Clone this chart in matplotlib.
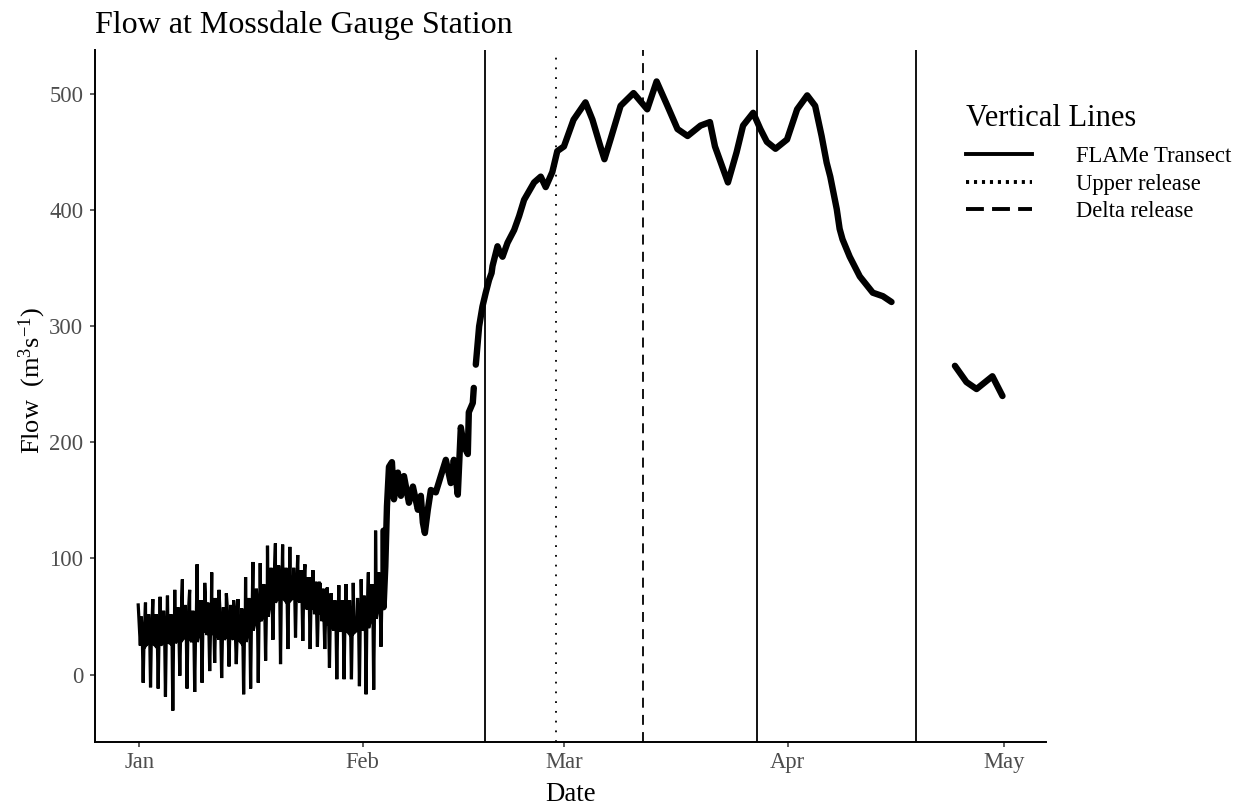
import numpy as np
import pandas as pd
import matplotlib
matplotlib.use("Agg")
import matplotlib.pyplot as plt
from matplotlib.lines import Line2D

plt.rcParams['font.family'] = ['Liberation Serif', 'DejaVu Serif']
plt.rcParams['mathtext.fontset'] = 'custom'
plt.rcParams['mathtext.rm'] = 'Liberation Serif'
plt.rcParams['mathtext.it'] = 'Liberation Serif:italic'

# ---------------- data (days since 2019-01-01, flow m3/s) ----------------
YEAR_START = "2019-01-01"

# tidal oscillation period: daily peaks, troughs and the band levels around troughs
peak_days = [-0.14, 0.87, 1.89, 2.90, 3.92, 4.93, 5.99, 7.00, 8.03, 9.09, 10.06, 11.07,
             12.09, 13.10, 13.70, 14.76, 15.78, 16.79, 17.80, 18.90, 19.90, 20.90, 22.00,
             23.00, 24.10, 25.10, 26.10, 27.70, 28.70, 29.70, 30.80, 31.80, 32.80, 33.90]
peak_flow = [60, 62, 65, 67, 68, 73, 82, 73, 95, 79, 88, 73, 70, 64, 65, 84, 97, 96,
             111, 113, 112, 110, 103, 95, 90, 79, 75, 77, 78, 79, 82, 88, 124, 124]
trough_days = [0.55, 1.57, 2.63, 3.64, 4.66, 5.63, 6.64, 7.70, 8.72, 9.78, 10.47, 11.44,
               12.46, 13.47, 14.49, 15.46, 16.52, 17.54, 18.55, 19.61, 20.63, 21.69, 22.70,
               23.72, 24.73, 25.75, 26.40, 27.42, 28.43, 29.45, 30.56, 31.48, 32.54, 33.55]
trough_flow = [-7, -11, -12, -19, -31, -1, -12, -15, -7, 3, 10, -3, 7, 9, -17, -12, -7,
               12, 30, 9, 22, 32, 29, 22, 24, 22, 6, -4, -4, -4, -10, -17, -13, 24]
band_hi = [50, 52, 52, 55, 52, 58, 60, 55, 64, 62, 66, 58, 60, 57, 57, 66, 74, 78,
           92, 94, 92, 92, 90, 84, 80, 74, 70, 64, 64, 64, 66, 68, 78, 88]
band_lo = [25, 27, 25, 28, 27, 30, 32, 28, 36, 34, 38, 30, 33, 30, 28, 38, 46, 50,
           62, 66, 64, 66, 62, 56, 52, 46, 42, 38, 38, 36, 38, 40, 48, 58]

# rising limb in early February
rise_days = [34.15, 34.38, 34.66, 35.07, 35.35, 35.90, 36.32, 36.74, 37.43, 37.98, 38.67,
             39.08, 39.36, 39.64, 40.05, 40.47, 41.16, 41.85, 42.55, 43.24, 43.66, 44.21,
             44.63, 45.05, 45.60, 45.74, 46.29, 46.43]
rise_flow = [93, 145, 179, 183, 151, 174, 154, 171, 148, 162, 142, 154, 131, 122, 142, 159,
             157, 171, 185, 165, 185, 155, 213, 197, 190, 226, 234, 247]

# high-flow period (after a short data gap)
high_days = [46.71, 47.17, 47.63, 48.09, 48.55, 48.90, 49.03, 49.72, 50.10, 50.42, 51.11,
             52.03, 52.72, 53.41, 54.80, 55.72, 56.41, 57.33, 58.02, 58.94, 60.27, 61.93,
             62.90, 64.00, 64.56, 65.40, 66.80, 68.60, 70.50, 71.80, 73.30, 74.70, 76.10,
             77.90, 79.20, 79.90, 81.70, 82.90, 83.80, 85.20, 86.20, 87.10, 88.30, 89.90,
             91.30, 92.70, 93.80, 94.70, 95.40, 95.90, 96.80, 97.20, 97.60, 98.60, 100.00,
             101.80, 103.20, 104.40]
high_flow = [267, 300, 317, 329, 340, 346, 352, 369, 363, 360, 372, 383, 395, 409, 424, 429,
             420, 433, 451, 455, 478, 493, 478, 455, 444, 461, 490, 501, 487, 511, 490, 470,
             464, 473, 476, 455, 424, 450, 473, 484, 470, 459, 453, 461, 487, 499, 490, 464,
             441, 429, 401, 384, 375, 360, 343, 329, 326, 321]

# last few days of April (after a longer gap)
late_days = [113.2, 114.8, 116.2, 118.4, 119.8]
late_flow = [266, 252, 246, 257, 240]

gap_days = [46.55, 108.0]   # missing records

# vertical reference lines
event_days = [48.0, 57.9, 69.9, 85.8, 107.8]
event_kind = ["FLAMe Transect", "Upper release", "Delta release", "FLAMe Transect", "FLAMe Transect"]
legend_order = ["FLAMe Transect", "Upper release", "Delta release"]

month_ticks = ["2019-01-01", "2019-02-01", "2019-03-01", "2019-04-01", "2019-05-01"]
month_labels = ["Jan", "Feb", "Mar", "Apr", "May"]
y_ticks = [0, 100, 200, 300, 400, 500]

# ---------------- assemble series ----------------
osc_t, osc_v = list(peak_days), list(peak_flow)
for t, v, hi, lo in zip(trough_days, trough_flow, band_hi, band_lo):
    osc_t += [t - 0.40, t - 0.26, t - 0.10, t, t + 0.10, t + 0.24, t + 0.36]
    osc_v += [lo, hi, lo, v, lo, hi, lo]

all_t = np.array(osc_t + rise_days + high_days + late_days + gap_days, dtype=float)
all_v = np.array(osc_v + rise_flow + high_flow + late_flow + [np.nan] * len(gap_days), dtype=float)
order = np.argsort(all_t, kind="stable")
all_t, all_v = all_t[order], all_v[order]

start = pd.Timestamp(YEAR_START)
def to_date(days):
    return (start + pd.to_timedelta(np.asarray(days, dtype=float), unit="D")).to_numpy()

dates = to_date(all_t)

# ---------------- plot ----------------
W, H = 1246, 807
fig = plt.figure(figsize=(W / 100, H / 100), dpi=100)
ax = fig.add_axes([95 / W, 1 - 742 / H, (1045.7 - 95) / W, (742 - 50) / H])

osc = all_t <= 34.2
ax.plot(dates[osc], all_v[osc], color="black", lw=2.3, solid_joinstyle="miter")
rest = all_t >= 33.9
ax.plot(dates[rest], all_v[rest], color="black", lw=4.6, solid_joinstyle="round",
        solid_capstyle="round")

styles = {
    "FLAMe Transect": dict(linestyle="-"),
    "Upper release": dict(linestyle=(0, (1, 4.4))),
    "Delta release": dict(linestyle=(0, (5.5, 4))),
}
for d, k in zip(event_days, event_kind):
    ax.axvline(to_date([d])[0], color="black", lw=1.3, **styles[k])

# axis limits (5% expansion like ggplot)
tmin, tmax = np.nanmin(all_t), np.nanmax(all_t)
pad_t = 0.05 * (tmax - tmin)
ax.set_xlim(to_date([tmin - pad_t])[0], to_date([tmax + pad_t])[0])
vmin, vmax = np.nanmin(all_v), np.nanmax(all_v)
pad_v = 0.05 * (vmax - vmin)
ax.set_ylim(vmin - pad_v, vmax + pad_v)

ax.set_xticks(pd.to_datetime(month_ticks).to_numpy())
ax.set_xticklabels(month_labels)
ax.set_yticks(y_ticks)

for s in ["top", "right"]:
    ax.spines[s].set_visible(False)
for s in ["left", "bottom"]:
    ax.spines[s].set_linewidth(1.4)
    ax.spines[s].set_color("black")
ax.tick_params(axis="both", labelsize=16.3, labelcolor="#4D4D4D", color="#333333",
               length=3.5, width=1.1)
ax.tick_params(axis="x", pad=3.5)
ax.tick_params(axis="y", pad=5)

ax.set_xlabel("Date", fontsize=19.3, labelpad=7)
ax.set_ylabel(r"Flow  $(\mathrm{m}^{3}\mathrm{s}^{-1})$", fontsize=19)
ax.yaxis.set_label_coords(-0.049, 0.523)
ax.set_title("Flow at Mossdale Gauge Station", loc="left", fontsize=23, pad=12)

handles = [
    Line2D([], [], color="black", lw=2.8, linestyle="-"),
    Line2D([], [], color="black", lw=2.8, linestyle=(0, (0.8, 1.25))),
    Line2D([], [], color="black", lw=2.8, linestyle=(0, (4.6, 2.1))),
]
leg = fig.legend(handles, legend_order, title="Vertical Lines", loc="upper left",
                 bbox_to_anchor=(966 / W, 1 - 104 / H), bbox_transform=fig.transFigure,
                 frameon=False, fontsize=16.3, title_fontsize=22, handlelength=2.9,
                 handletextpad=1.95, labelspacing=0.28, borderpad=0, borderaxespad=0,
                 alignment="left")
leg._legend_box.sep = 9.5

fig.savefig("out.png", dpi=100)
